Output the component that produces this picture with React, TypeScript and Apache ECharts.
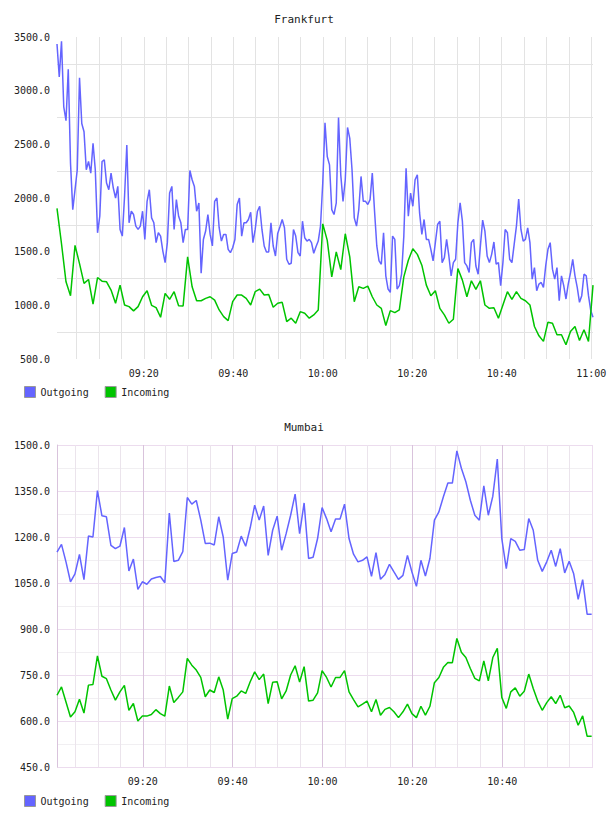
import { useEffect, useRef } from 'react';
import * as echarts from 'echarts';

// Times are minutes since midnight.
const FRANKFURT_FIRST = 540.6;
const FRANKFURT_LAST = 660.4;
const MUMBAI_FIRST = 540.9;
const MUMBAI_MAX = 660.2;

// Frankfurt, outgoing traffic (sampled every ~30 s)
const frankfurtOutgoing = [
  3435, 3127, 3460, 2850, 2720, 3200, 2324, 1892, 2077, 2263,
  3120, 2694, 2617, 2263, 2340, 2232, 2509, 2263, 1676, 1830,
  2340, 2355, 2139, 2077, 2232, 2093, 2000, 2108, 1707, 1645,
  2016, 2494, 1769, 1877, 1846, 1738, 1707, 1738, 1877, 1614,
  1969, 2077, 1815, 1769, 1584, 1676, 1645, 1506, 1398, 1584,
  2046, 2108, 1707, 1985, 1830, 1769, 1584, 1707, 1707, 2256,
  2170, 2108, 1877, 1954, 1300, 1614, 1692, 1846, 1661, 1553,
  1969, 2000, 1723, 1599, 1661, 1661, 1522, 1491, 1537, 1614,
  1939, 2000, 1645, 1769, 1769, 1800, 1867, 1584, 1707, 1877,
  1923, 1707, 1553, 1497, 1497, 1769, 1553, 1460, 1670, 1732,
  1800, 1723, 1429, 1383, 1392, 1707, 1645, 1491, 1460, 1784,
  1630, 1599, 1614, 1584, 1485, 1546, 1599, 1738, 2139, 2700,
  2386, 2309, 1892, 1846, 1954, 2750, 2216, 1969, 2170, 2657,
  2556, 2263, 1815, 1738, 1892, 2201, 1969, 1969, 1939, 1985,
  2232, 1877, 1553, 1414, 1383, 1676, 1275, 1152, 1121, 1645,
  1614, 1152, 1183, 1290, 1645, 2278, 1830, 2046, 1923, 2170,
  2216, 1861, 1661, 1800, 1614, 1614, 1522, 1414, 1584, 1753,
  1784, 1398, 1445, 1614, 1460, 1275, 1398, 1429, 1769, 1954,
  1784, 1398, 1367, 1306, 1584, 1614, 1367, 1290, 1553, 1794,
  1692, 1460, 1398, 1475, 1590, 1383, 1398, 1183, 1398, 1707,
  1676, 1429, 1398, 1568, 1738, 1991, 1707, 1599, 1614, 1722,
  1584, 1244, 1352, 1136, 1198, 1213, 1167, 1367, 1522, 1584,
  1337, 1244, 1352, 1043, 1275, 1183, 1059, 1198, 1302, 1429,
  1275, 1167, 1028, 1090, 1290, 1275, 1090, 951, 889,
];

// Frankfurt, incoming traffic (sampled every ~1 min)
const frankfurtIncoming = [
  1904, 1574, 1219, 1090, 1559, 1389, 1204, 1241, 1012, 1259,
  1225, 1219, 1142, 1019, 1188, 1003, 988, 948, 988, 1080,
  1136, 1000, 978, 889, 1111, 1056, 1127, 997, 994, 1451,
  1173, 1043, 1043, 1065, 1080, 1049, 957, 895, 858, 1034,
  1096, 1096, 1065, 1003, 1127, 1151, 1096, 1102, 982, 1019,
  1028, 849, 880, 833, 941, 926, 880, 911, 957, 1759,
  1605, 1265, 1497, 1333, 1667, 1451, 1034, 1173, 1158, 1179,
  1080, 1003, 972, 812, 951, 932, 957, 1265, 1420, 1528,
  1475, 1374, 1188, 1090, 1136, 972, 911, 833, 870, 1343,
  1235, 1080, 1229, 1148, 1229, 1003, 972, 978, 880, 1003,
  1127, 1056, 1127, 1065, 1043, 1003, 803, 716, 664, 843,
  834, 726, 726, 633, 756, 803, 673, 772, 664, 1188,
];

// Mumbai, one sample per minute
const mumbaiOutgoing = [
  1151, 1176, 1119, 1054, 1080, 1143, 1061, 1203, 1200, 1351,
  1269, 1266, 1173, 1162, 1170, 1231, 1089, 1128, 1029, 1054,
  1046, 1063, 1068, 1071, 1051, 1278, 1120, 1124, 1152, 1329,
  1307, 1319, 1255, 1179, 1180, 1174, 1266, 1200, 1059, 1146,
  1151, 1203, 1170, 1230, 1304, 1255, 1301, 1140, 1222, 1268,
  1157, 1211, 1271, 1340, 1211, 1311, 1130, 1134, 1195, 1296,
  1260, 1217, 1259, 1259, 1307, 1195, 1144, 1119, 1124, 1135,
  1072, 1149, 1062, 1078, 1111, 1086, 1062, 1075, 1140, 1086,
  1039, 1124, 1073, 1130, 1255, 1282, 1331, 1376, 1376, 1481,
  1424, 1380, 1320, 1271, 1255, 1367, 1271, 1333, 1454, 1195,
  1097, 1195, 1186, 1157, 1159, 1260, 1222, 1124, 1088, 1119,
  1157, 1104, 1162, 1083, 1121, 1080, 997, 1061, 948, 948,
];

const mumbaiIncoming = [
  684, 711, 662, 613, 630, 671, 626, 717, 719, 812,
  746, 738, 701, 668, 695, 716, 635, 657, 600, 616,
  616, 621, 637, 624, 616, 714, 660, 677, 695, 804,
  782, 766, 742, 679, 701, 693, 744, 701, 606, 673,
  681, 698, 690, 728, 760, 735, 753, 657, 726, 728,
  672, 698, 750, 780, 727, 777, 665, 668, 692, 764,
  742, 711, 742, 742, 764, 695, 670, 646, 655, 665,
  630, 670, 619, 638, 644, 630, 611, 630, 655, 624,
  611, 648, 619, 648, 725, 742, 775, 791, 790, 869,
  824, 807, 771, 739, 731, 796, 731, 807, 837, 677,
  641, 695, 708, 681, 697, 753, 706, 665, 635, 660,
  679, 657, 684, 643, 649, 628, 586, 617, 550, 550,
];

const frankfurtTimeLabels = ['09:20', '09:40', '10:00', '10:20', '10:40', '11:00'];
const mumbaiTimeLabels = ['09:20', '09:40', '10:00', '10:20', '10:40'];
const frankfurtValueLabels = [500, 1000, 1500, 2000, 2500, 3000, 3500];
const mumbaiValueLabels = [450, 600, 750, 900, 1050, 1200, 1350, 1500];

const FONT = '"DejaVu Sans Mono", monospace';
const TEXT = '#222';
const OUT_COLOR = '#6464ff';
const IN_COLOR = '#00c400';

const toMinutes = (s: string) => {
  const [h, m] = s.split(':').map(Number);
  return h * 60 + m;
};
const pad = (n: number) => String(n).padStart(2, '0');
const fmtTime = (v: number) => `${pad(Math.floor(v / 60))}:${pad(Math.round(v % 60))}`;

function spread(values: number[], first: number, last: number) {
  const step = (last - first) / (values.length - 1);
  return values.map((v, i) => [first + i * step, v]);
}

// five-minute grid positions between 09:05 and 11:00
const gridMinutes: number[] = [];
for (let m = 545; m <= 660; m += 5) gridMinutes.push(m);

function xAxis(gridIndex: number, min: number, max: number, labels: string[], colors: string[]) {
  return {
    type: 'value',
    gridIndex,
    min,
    max,
    axisLine: { show: false },
    axisTick: { show: false, customValues: gridMinutes },
    axisLabel: {
      customValues: labels.map(toMinutes),
      formatter: (v: number) => fmtTime(v),
      margin: 9,
      color: TEXT,
      fontFamily: FONT,
      fontSize: 10,
    },
    splitLine: { show: true, lineStyle: { color: colors, width: 1 } },
  };
}

function yAxis(gridIndex: number, min: number, max: number, interval: number, labels: number[], colors: string[], axisLine?: string) {
  return {
    type: 'value',
    gridIndex,
    min,
    max,
    interval,
    axisLine: axisLine ? { show: true, lineStyle: { color: axisLine, width: 1 } } : { show: false },
    axisTick: { show: false },
    axisLabel: {
      formatter: (v: number) => (labels.includes(v) ? v.toFixed(1) : ''),
      margin: 7,
      color: TEXT,
      fontFamily: FONT,
      fontSize: 10,
    },
    splitLine: { show: true, lineStyle: { color: colors, width: 1 } },
  };
}

function buildOption() {
  const frankfurtX = gridMinutes.map(() => '#e3e3e3');
  const mumbaiX = gridMinutes.map((m) => (m === 660 ? '#eddcef' : m % 20 === 0 ? '#d9c3dc' : '#ebe4ec'));

  const frankfurtY: string[] = [];
  for (let v = 500; v <= 3500; v += 250) frankfurtY.push(v % 500 === 0 ? 'rgba(0,0,0,0)' : '#e3e3e3');
  const mumbaiY: string[] = [];
  for (let v = 450; v <= 1500; v += 75) mumbaiY.push(v % 150 === 0 ? '#ecdcee' : '#f1eff2');

  const line = (name: string, color: string, data: number[][], idx: number) => ({
    name,
    type: 'line',
    xAxisIndex: idx,
    yAxisIndex: idx,
    data,
    symbol: 'none',
    lineStyle: { color, width: 1.5 },
    itemStyle: { color },
    silent: true,
  });

  const legend = (top: number) => ({
    data: ['Outgoing', 'Incoming'],
    left: 24,
    top,
    padding: 0,
    icon: 'rect',
    itemWidth: 11,
    itemHeight: 11,
    itemGap: 16,
    selectedMode: false,
    itemStyle: { borderColor: '#999', borderWidth: 1 },
    textStyle: { color: TEXT, fontFamily: FONT, fontSize: 10 },
  });

  return {
    animation: false,
    backgroundColor: '#fff',
    textStyle: { fontFamily: FONT },
    title: [
      { text: 'Frankfurt', left: 'center', top: 14, padding: 0, textStyle: { color: TEXT, fontFamily: FONT, fontSize: 11, fontWeight: 'normal' } },
      { text: 'Mumbai', left: 'center', top: 422, padding: 0, textStyle: { color: TEXT, fontFamily: FONT, fontSize: 11, fontWeight: 'normal' } },
    ],
    legend: [legend(386), legend(795)],
    grid: [
      { left: 57, top: 37, width: 536, height: 322, outerBoundsMode: 'none' },
      { left: 57, top: 445, width: 536, height: 322, outerBoundsMode: 'none' },
    ],
    xAxis: [
      xAxis(0, FRANKFURT_FIRST, FRANKFURT_LAST, frankfurtTimeLabels, frankfurtX),
      xAxis(1, MUMBAI_FIRST, MUMBAI_MAX, mumbaiTimeLabels, mumbaiX),
    ],
    yAxis: [
      yAxis(0, 500, 3500, 250, frankfurtValueLabels, frankfurtY),
      yAxis(1, 450, 1500, 75, mumbaiValueLabels, mumbaiY, '#d9c3dc'),
    ],
    series: [
      line('Outgoing', OUT_COLOR, spread(frankfurtOutgoing, FRANKFURT_FIRST, FRANKFURT_LAST), 0),
      line('Incoming', IN_COLOR, spread(frankfurtIncoming, FRANKFURT_FIRST, FRANKFURT_LAST), 0),
      line('Outgoing', OUT_COLOR, spread(mumbaiOutgoing, MUMBAI_FIRST, MUMBAI_FIRST + mumbaiOutgoing.length - 1), 1),
      line('Incoming', IN_COLOR, spread(mumbaiIncoming, MUMBAI_FIRST, MUMBAI_FIRST + mumbaiIncoming.length - 1), 1),
    ],
  };
}

export default function App() {
  const ref = useRef<HTMLDivElement>(null);

  useEffect(() => {
    if (!ref.current) return;
    const chart = echarts.init(ref.current, undefined, { renderer: 'svg' });
    chart.setOption(buildOption() as any);
    return () => chart.dispose();
  }, []);

  return (
    <div
      ref={ref}
      style={{ position: 'absolute', left: 0, top: 0, width: 608, height: 816, background: '#fff' }}
    />
  );
}
